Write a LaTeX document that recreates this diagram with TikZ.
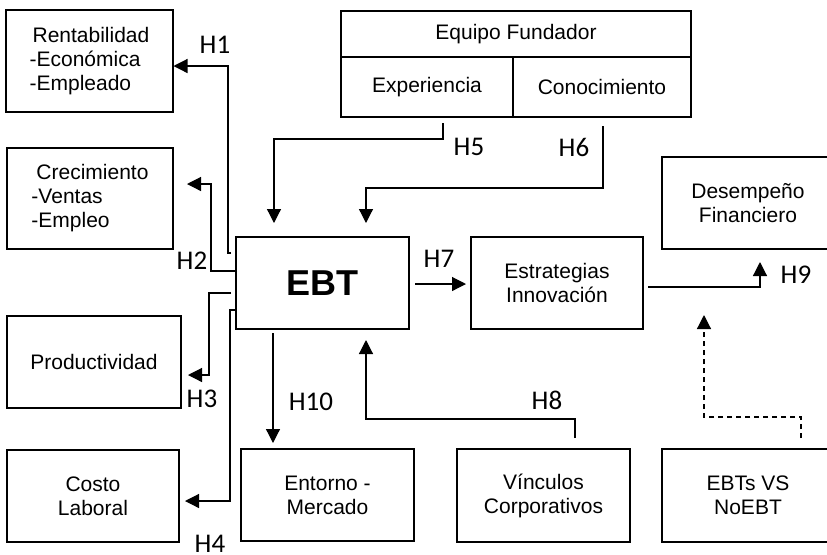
\documentclass[tikz,border=0pt]{standalone}
\usepackage{fontspec}
\setmainfont{Liberation Sans}
\newfontfamily\hfont{Carlito}
\usetikzlibrary{arrows.meta}

\begin{document}
\begin{tikzpicture}[x=0.5pt,y=-0.5pt,
  box/.style={draw, line width=1pt, rectangle, inner sep=0pt, align=center,
    font=\fontsize{10.5pt}{12pt}\selectfont},
  conn/.style={line width=0.6pt, -{Triangle[length=7pt,width=7pt]}},
  dconn/.style={conn, dash pattern=on 2.5pt off 2pt},
  hyp/.style={font=\hfont\fontsize{13.5pt}{15pt}\selectfont, inner sep=0pt}]
\useasboundingbox (0,0) rectangle (827,554);

% outcome boxes on the left
\node[box, align=left, minimum width=83.5pt, minimum height=51pt] (rent) at (89.5,61)
  {\hspace*{1.5pt}Rentabilidad\\-Económica\\-Empleado};
\node[box, align=left, minimum width=83pt, minimum height=50.5pt] (crec) at (90,198.5)
  {\hspace*{2.5pt}Crecimiento\\-Ventas\\-Empleo};
\node[box, minimum width=87pt, minimum height=46pt] (prod) at (94,362) {Productividad};
\node[box, minimum width=86pt, minimum height=46pt] (costo) at (93,496) {Costo\\Laboral};

% central firm box
\node[box, minimum width=86.5pt, minimum height=46pt,
  font=\fontsize{18pt}{20pt}\selectfont\bfseries] (ebt) at (322.5,283) {EBT};

% founding team
\node[box, minimum width=175pt, minimum height=23pt] (equipo) at (516,34) {Equipo Fundador};
\node[box, minimum width=86pt, minimum height=30pt] (exp) at (427,87) {Experiencia};
\node[box, minimum width=89pt, minimum height=30pt] (con) at (602,87) {Conocimiento};

% strategy and performance
\node[box, minimum width=86pt, minimum height=46pt] (estr) at (557,283) {Estrategias\\Innovación};
\node[box, minimum width=86pt, minimum height=46pt] (desemp) at (748,203) {Desempeño\\Financiero};

% bottom row
\node[box, minimum width=86.5pt, minimum height=46pt] (entorno) at (327.5,495) {Entorno -\\Mercado};
\node[box, minimum width=86.5pt, minimum height=46.5pt] (vinc) at (543.5,495.5) {Vínculos\\Corporativos};
\node[box, minimum width=86pt, minimum height=46.5pt] (noebt) at (748,495.5) {EBTs VS\\NoEBT};

% connector end points
\coordinate (h1s) at (231,253);  \coordinate (h1e) at (173.5,66);
\coordinate (h2s) at (237,271);  \coordinate (h2e) at (187,184);
\coordinate (h3s) at (231,293);  \coordinate (h3e) at (188,375);
\coordinate (h4s) at (236,310);  \coordinate (h4e) at (185,501);
\coordinate (h5s) at (443,123);  \coordinate (h5e) at (274,223);
\coordinate (h6s) at (603,126);  \coordinate (h6e) at (366,223);
\coordinate (h7s) at (415,284);  \coordinate (h7e) at (466,284);
\coordinate (h8s) at (575,438);  \coordinate (h8e) at (366,340);
\coordinate (h9s) at (648,287);  \coordinate (h9e) at (760,262);
\coordinate (h10s) at (273,333); \coordinate (h10e) at (273,443);
\coordinate (ds) at (801,438);   \coordinate (de) at (704,315);

% hypotheses
\draw[conn] (h1s) -- (228,253) -- (228,66) -- (h1e);
\draw[conn] (h2s) -- (211,271) -- (211,184) -- (h2e);
\draw[conn] (h3s) -- (209,293) -- (209,375) -- (h3e);
\draw[conn] (h4s) -- (230,310) -- (230,501) -- (h4e);
\draw[conn] (h5s) -- (443,139) -- (274,139) -- (h5e);
\draw[conn] (h6s) -- (603,188) -- (366,188) -- (h6e);
\draw[conn] (h7s) -- (h7e);
\draw[conn] (h8s) -- (575,419) -- (366,419) -- (h8e);
\draw[conn] (h9s) -- (760,287) -- (h9e);
\draw[conn] (h10s) -- (h10e);
\draw[dconn] (ds) -- (801,417) -- (704,417) -- (de);

% hypothesis labels
\node[hyp] (l1) at (215,45) {H1};
\node[hyp] (l2) at (192,261) {H2};
\node[hyp] (l3) at (202,399) {H3};
\node[hyp] (l4) at (210,544) {H4};
\node[hyp] (l5) at (469,147) {H5};
\node[hyp] (l6) at (574,147) {H6};
\node[hyp] (l7) at (439,259) {H7};
\node[hyp] (l8) at (547,400) {H8};
\node[hyp] (l9) at (796,275) {H9};
\node[hyp] (l10) at (311,402) {H10};
\end{tikzpicture}
\end{document}
